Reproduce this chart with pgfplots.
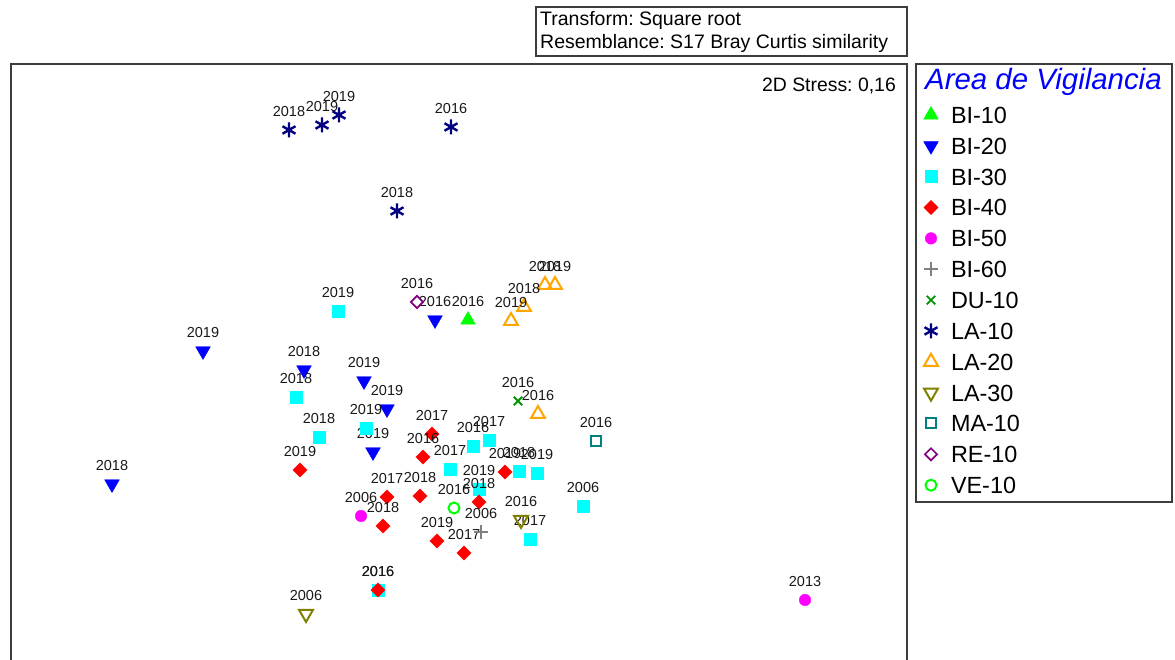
\documentclass[border=0pt]{standalone}
\usepackage{pgfplots}
\pgfplotsset{compat=1.18}
\usepackage{fontspec}
\setmainfont{Liberation Sans}
\frenchspacing
\newcommand\fs[1]{\fontsize{#1pt}{#1pt}\selectfont}
\definecolor{cLime}{RGB}{0,255,0}
\definecolor{cBlue}{RGB}{0,0,255}
\definecolor{cCyan}{RGB}{0,255,255}
\definecolor{cRed}{RGB}{255,0,0}
\definecolor{cMag}{RGB}{255,0,255}
\definecolor{cGray}{RGB}{128,128,128}
\definecolor{cDGreen}{RGB}{0,150,0}
\definecolor{cNavy}{RGB}{0,0,128}
\definecolor{cOrange}{RGB}{255,165,0}
\definecolor{cOlive}{RGB}{128,128,0}
\definecolor{cTeal}{RGB}{0,128,128}
\definecolor{cPurple}{RGB}{128,0,128}
\definecolor{cFrame}{RGB}{60,60,60}
\pgfplotsset{pt/.style={only marks, nodes near coords, point meta=explicit symbolic,
  nodes near coords style={font=\fs{14.5}, text=black!90, anchor=base, yshift=13pt, inner sep=0pt}}}
\begin{document}
\begin{tikzpicture}
\begin{axis}[
  at={(11pt,-20pt)}, anchor=south west,
  scale only axis, width=896pt, height=616pt,
  xmin=11, xmax=907, ymin=-20, ymax=596,
  xtick=\empty, ytick=\empty,
  axis line style={line width=1.2pt, cFrame},
  clip=false,
  legend cell align=left,
  legend style={at={(1.015625,0.93929)}, anchor=north west,
    draw=none, fill=none, inner sep=0pt, outer sep=0pt,
    row sep=0pt, /tikz/column sep=10pt, font=\fs{23.4},
    cells={anchor=base west},
    nodes={inner sep=0pt, text height=22pt, text depth=8.85pt}},
  legend image code/.code={\path[draw=none, fill=none] (-10pt,-8.85pt) rectangle (10pt,22pt); \draw[#1] plot coordinates {(0pt,8.4pt)};},
]
% BI-10
\addplot[pt, mark=triangle*, color=cLime, mark size=8.5] table[meta=l] {
x y l
468 340 2016
};
\addlegendentry{BI-10}
% BI-20
\addplot[pt, mark=triangle*, color=cBlue, mark size=8.5, mark options={rotate=180}] table[meta=l] {
x y l
435 340 2016
203 309 2019
304 290 2018
364 279 2019
387 251 2019
373 208 2019
112 176 2018
};
\addlegendentry{BI-20}
% BI-30
\addplot[pt, mark=square*, color=cCyan, mark size=6] table[meta=l] {
x y l
338 349 2019
296 263 2018
319 223 2018
366 232 2019
473 214 2016
489 220 2017
450 191 2017
519 189 2018
537 187 2019
479 171 2019
583 154 2006
530 121 2017
378 70 2016
};
\addlegendentry{BI-30}
% BI-40
\addplot[pt, mark=square*, color=cRed, mark size=5, mark options={rotate=45}] table[meta=l] {
x y l
432 226 2017
423 203 2016
505 188 2019
479 158 2018
420 164 2018
437 119 2019
464 107 2017
300 190 2019
387 163 2017
383 134 2018
378 70 2016
};
\addlegendentry{BI-40}
% BI-50
\addplot[pt, mark=*, color=cMag, mark size=5.8] table[meta=l] {
x y l
361 144 2006
805 60 2013
};
\addlegendentry{BI-50}
% BI-60
\addplot[pt, mark=+, color=cGray, mark size=7, mark options={line width=1.6pt}] table[meta=l] {
x y l
481 128 2006
};
\addlegendentry{BI-60}
% DU-10
\addplot[pt, mark=x, color=cDGreen, mark size=6, mark options={line width=1.8pt}] table[meta=l] {
x y l
518 259 2016
};
\addlegendentry{DU-10}
% LA-10
\addplot[pt, mark=asterisk, color=cNavy, mark size=7.5, mark options={line width=2.4pt}] table[meta=l] {
x y l
289 530 2018
322 535 2019
339 545 2019
451 533 2016
397 449 2018
};
\addlegendentry{LA-10}
% LA-20
\addplot[pt, mark=triangle, color=cOrange, mark size=8, mark options={line width=2pt}] table[meta=l] {
x y l
545 375 2018
555 375 2019
524 353 2018
511 339 2019
538 246 2016
};
\addlegendentry{LA-20}
% LA-30
\addplot[pt, mark=triangle, color=cOlive, mark size=8, mark options={line width=2pt, rotate=180}] table[meta=l] {
x y l
521 140 2016
306 46 2006
};
\addlegendentry{LA-30}
% MA-10
\addplot[pt, mark=square, color=cTeal, mark size=5, mark options={line width=2pt}] table[meta=l] {
x y l
596 219 2016
};
\addlegendentry{MA-10}
% RE-10
\addplot[pt, mark=square, color=cPurple, mark size=4.3, mark options={line width=1.7pt, rotate=45}] table[meta=l] {
x y l
417 358 2016
};
\addlegendentry{RE-10}
% VE-10
\addplot[pt, mark=o, color=cLime, mark size=5.5, mark options={line width=2pt}] table[meta=l] {
x y l
454 152 2016
};
\addlegendentry{VE-10}
\end{axis}
% header box
\draw[line width=1.2pt, cFrame] (536pt,653pt) rectangle (907pt,604pt);
\node[anchor=base west, inner sep=0pt, font=\fs{19.5}] at (540pt,634pt) {Transform: Square root};
\node[anchor=base west, inner sep=0pt, font=\fs{19.5}] at (540pt,611pt) {Resemblance: S17 Bray Curtis similarity};
\node[anchor=base east, inner sep=0pt, font=\fs{19.4}] at (896pt,568pt) {2D Stress: 0,16};
% legend frame and title
\draw[line width=1.2pt, cFrame] (916pt,596pt) rectangle (1172pt,158pt);
\node[anchor=base west, inner sep=0pt, font=\fs{29.4}\itshape, text=cBlue] at (925pt,570pt) {Area de Vigilancia};
\pgfresetboundingbox
\path (0pt,0pt) rectangle (1175pt,660pt);
\end{tikzpicture}
\end{document}
